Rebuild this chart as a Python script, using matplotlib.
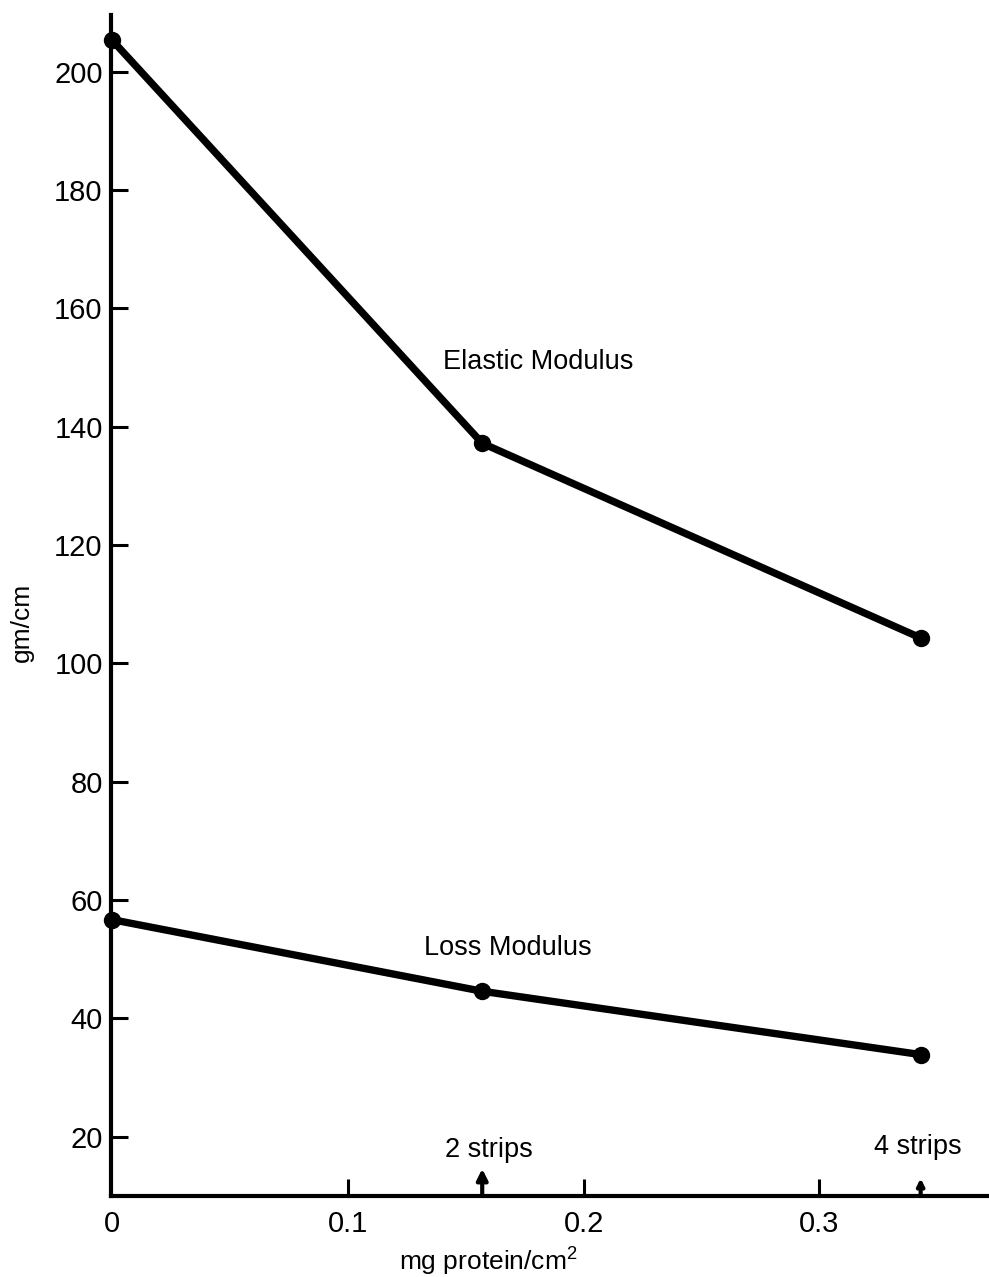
import numpy as np
import matplotlib
matplotlib.use('Agg')
import matplotlib.pyplot as plt

plt.rcParams['font.family'] = ['Liberation Sans', 'DejaVu Sans']
plt.rcParams['mathtext.fontset'] = 'custom'
plt.rcParams['mathtext.rm'] = 'Liberation Sans'

# data
protein = [0.0, 0.157, 0.343]
elastic = [205.3, 137.2, 104.3]
loss = [56.7, 44.6, 33.9]

xticks = [0.1, 0.2, 0.3]
xticklabels = ['0.1', '0.2', '0.3']
yticks = [20, 40, 60, 80, 100, 120, 140, 160, 180, 200]

strip_x = [0.157, 0.343]
strip_labels = ['2 strips', '4 strips']

fig = plt.figure(figsize=(9.89, 12.77), dpi=100)
ax = fig.add_axes([0.1122, 0.0634, 0.8878, 0.9246])

ax.plot(protein, elastic, color='black', lw=5.3, marker='o', ms=11.5,
        solid_joinstyle='round', clip_on=False, zorder=3)
ax.plot(protein, loss, color='black', lw=5.3, marker='o', ms=11.5,
        solid_joinstyle='round', clip_on=False, zorder=3)

ax.text(0.1405, 151, 'Elastic Modulus', fontsize=19.5, ha='left', va='center')
ax.text(0.1325, 51.9, 'Loss Modulus', fontsize=19.5, ha='left', va='center')

# strip markers on x axis
ax.annotate('', xy=(strip_x[0], 14.6), xytext=(strip_x[0], 10.0),
            arrowprops=dict(arrowstyle='-|>', lw=3, color='black',
                            mutation_scale=16, shrinkA=0, shrinkB=0))
ax.annotate('', xy=(strip_x[1], 13.0), xytext=(strip_x[1], 10.0),
            arrowprops=dict(arrowstyle='-|>', lw=3, color='black',
                            mutation_scale=10, shrinkA=0, shrinkB=0))
ax.text(strip_x[0] + 0.003, 17.8, strip_labels[0], fontsize=19.5, ha='center', va='center')
ax.text(strip_x[1] - 0.001, 18.3, strip_labels[1], fontsize=19.5, ha='center', va='center')

ax.set_xlim(-0.0005, 0.372)
ax.set_ylim(10.0, 209.5)

ax.set_xticks(xticks)
ax.set_xticklabels(xticklabels)
ax.set_yticks(yticks)
ax.text(0.0, -0.012, '0', transform=ax.get_xaxis_transform(), fontsize=21,
        ha='center', va='top')

ax.spines['top'].set_visible(False)
ax.spines['right'].set_visible(False)
ax.spines['left'].set_linewidth(3)
ax.spines['bottom'].set_linewidth(3)

ax.tick_params(axis='both', direction='in', length=12, width=2.2,
               labelsize=21, colors='black')
ax.tick_params(axis='x', pad=10)
ax.tick_params(axis='y', pad=6)

fig.text(488 / 989, 1 - 1261 / 1277, 'mg protein/cm$^{2}$', fontsize=19,
         ha='center', va='center')
fig.text(22 / 989, 1 - 622 / 1277, 'gm/cm', fontsize=19, rotation=90,
         ha='center', va='center')

fig.savefig('out.png', dpi=100)
